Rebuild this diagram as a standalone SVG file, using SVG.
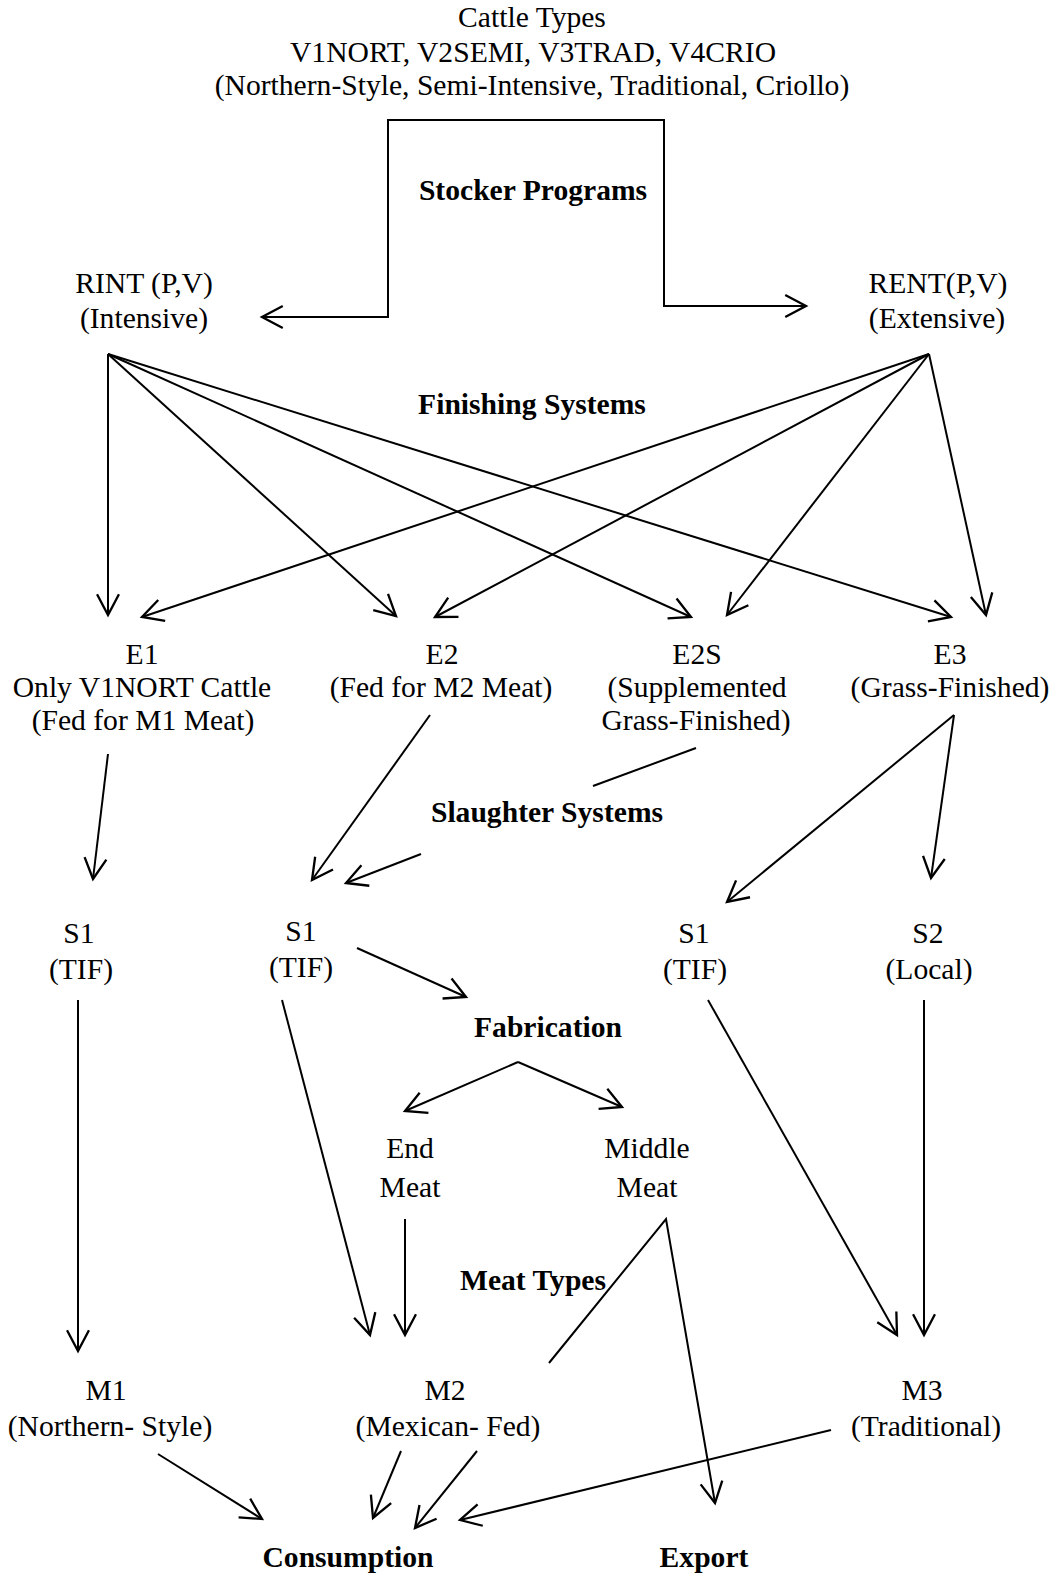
<svg xmlns="http://www.w3.org/2000/svg" width="1057" height="1579" viewBox="0 0 1057 1579">
<style>
text{font-family:"Liberation Serif","Times New Roman",serif;font-size:29.6px;fill:#000;text-anchor:middle}
.b{font-weight:bold}
.c{fill:none;stroke:#000;stroke-width:2}
.a{marker-end:url(#ah)}
</style>
<defs>
<marker id="ah" markerUnits="userSpaceOnUse" markerWidth="30" markerHeight="30" viewBox="-22 -12 26 24" refX="0" refY="0" orient="auto" overflow="visible">
<path d="M-18,-9.5 L0,0 L-18,9.5" fill="none" stroke="#000" stroke-width="2"/>
</marker>
</defs>
<rect width="1057" height="1579" fill="#fff"/>
<g id="cattle"><text x="532" y="27">Cattle Types</text><text x="533" y="62">V1NORT, V2SEMI, V3TRAD, V4CRIO</text><text x="532" y="95">(Northern-Style, Semi-Intensive, Traditional, Criollo)</text></g>
<g id="lbl-stocker"><text class="b" x="533" y="200">Stocker Programs</text></g>
<g id="rint"><text x="144" y="293">RINT (P,V)</text><text x="144" y="328">(Intensive)</text></g>
<g id="rent"><text x="938" y="293">RENT(P,V)</text><text x="937" y="328">(Extensive)</text></g>
<g id="lbl-finishing"><text class="b" x="532" y="414">Finishing Systems</text></g>
<g id="e1"><text x="142" y="664">E1</text><text x="142" y="697">Only V1NORT Cattle</text><text x="143" y="730">(Fed for M1 Meat)</text></g>
<g id="e2"><text x="442" y="664">E2</text><text x="441" y="697">(Fed for M2 Meat)</text></g>
<g id="e2s"><text x="697" y="664">E2S</text><text x="697" y="697">(Supplemented</text><text x="696" y="730">Grass-Finished)</text></g>
<g id="e3"><text x="950" y="664">E3</text><text x="950" y="697">(Grass-Finished)</text></g>
<g id="lbl-slaughter"><text class="b" x="547" y="822">Slaughter Systems</text></g>
<g id="s1a"><text x="79" y="943">S1</text><text x="81" y="979">(TIF)</text></g>
<g id="s1b"><text x="301" y="941">S1</text><text x="301" y="977">(TIF)</text></g>
<g id="s1c"><text x="694" y="943">S1</text><text x="695" y="979">(TIF)</text></g>
<g id="s2"><text x="928" y="943">S2</text><text x="929" y="979">(Local)</text></g>
<g id="lbl-fabrication"><text class="b" x="548" y="1037">Fabrication</text></g>
<g id="endmeat"><text x="410" y="1158">End</text><text x="410" y="1197">Meat</text></g>
<g id="middlemeat"><text x="647" y="1158">Middle</text><text x="647" y="1197">Meat</text></g>
<g id="lbl-meattypes"><text class="b" x="533" y="1290">Meat Types</text></g>
<g id="m1"><text x="106" y="1400">M1</text><text x="110" y="1436">(Northern- Style)</text></g>
<g id="m2"><text x="445" y="1400">M2</text><text x="448" y="1436">(Mexican- Fed)</text></g>
<g id="m3"><text x="922" y="1400">M3</text><text x="926" y="1436">(Traditional)</text></g>
<g id="consumption"><text class="b" x="348" y="1567">Consumption</text></g>
<g id="export"><text class="b" x="704" y="1567">Export</text></g>
<g id="connectors">
<path class="c a" d="M526,120 L388,120 L388,317 L262,317"/>
<path class="c a" d="M526,120 L664,120 L664,306 L806,306"/>
<path class="c a" d="M108,354 L108,615"/>
<path class="c a" d="M108,354 L396,616"/>
<path class="c a" d="M108,354 L691,617"/>
<path class="c a" d="M108,354 L951,617"/>
<path class="c a" d="M929,354 L142,617"/>
<path class="c a" d="M929,354 L435,617"/>
<path class="c a" d="M929,354 L727,615"/>
<path class="c a" d="M929,354 L986,615"/>
<path class="c a" d="M108,754 L93,879"/>
<path class="c a" d="M430,715 L312,880"/>
<path class="c" d="M696,748 L593,786"/>
<path class="c a" d="M421,854 L346,883"/>
<path class="c a" d="M954,715 L727,902"/>
<path class="c a" d="M954,715 L931,878"/>
<path class="c a" d="M357,948 L466,997"/>
<path class="c a" d="M518,1062 L405,1111"/>
<path class="c a" d="M518,1062 L622,1107"/>
<path class="c a" d="M78,1000 L78,1351"/>
<path class="c a" d="M282,1000 L370,1335"/>
<path class="c a" d="M405,1219 L405,1335"/>
<path class="c a" d="M549,1363 L666,1219 L715,1503"/>
<path class="c a" d="M708,1000 L897,1335"/>
<path class="c a" d="M924,1000 L924,1335"/>
<path class="c a" d="M158,1454 L262,1519"/>
<path class="c a" d="M401,1451 L373,1518"/>
<path class="c a" d="M477,1451 L415,1528"/>
<path class="c a" d="M831,1430 L460,1520"/>
</g>
</svg>
